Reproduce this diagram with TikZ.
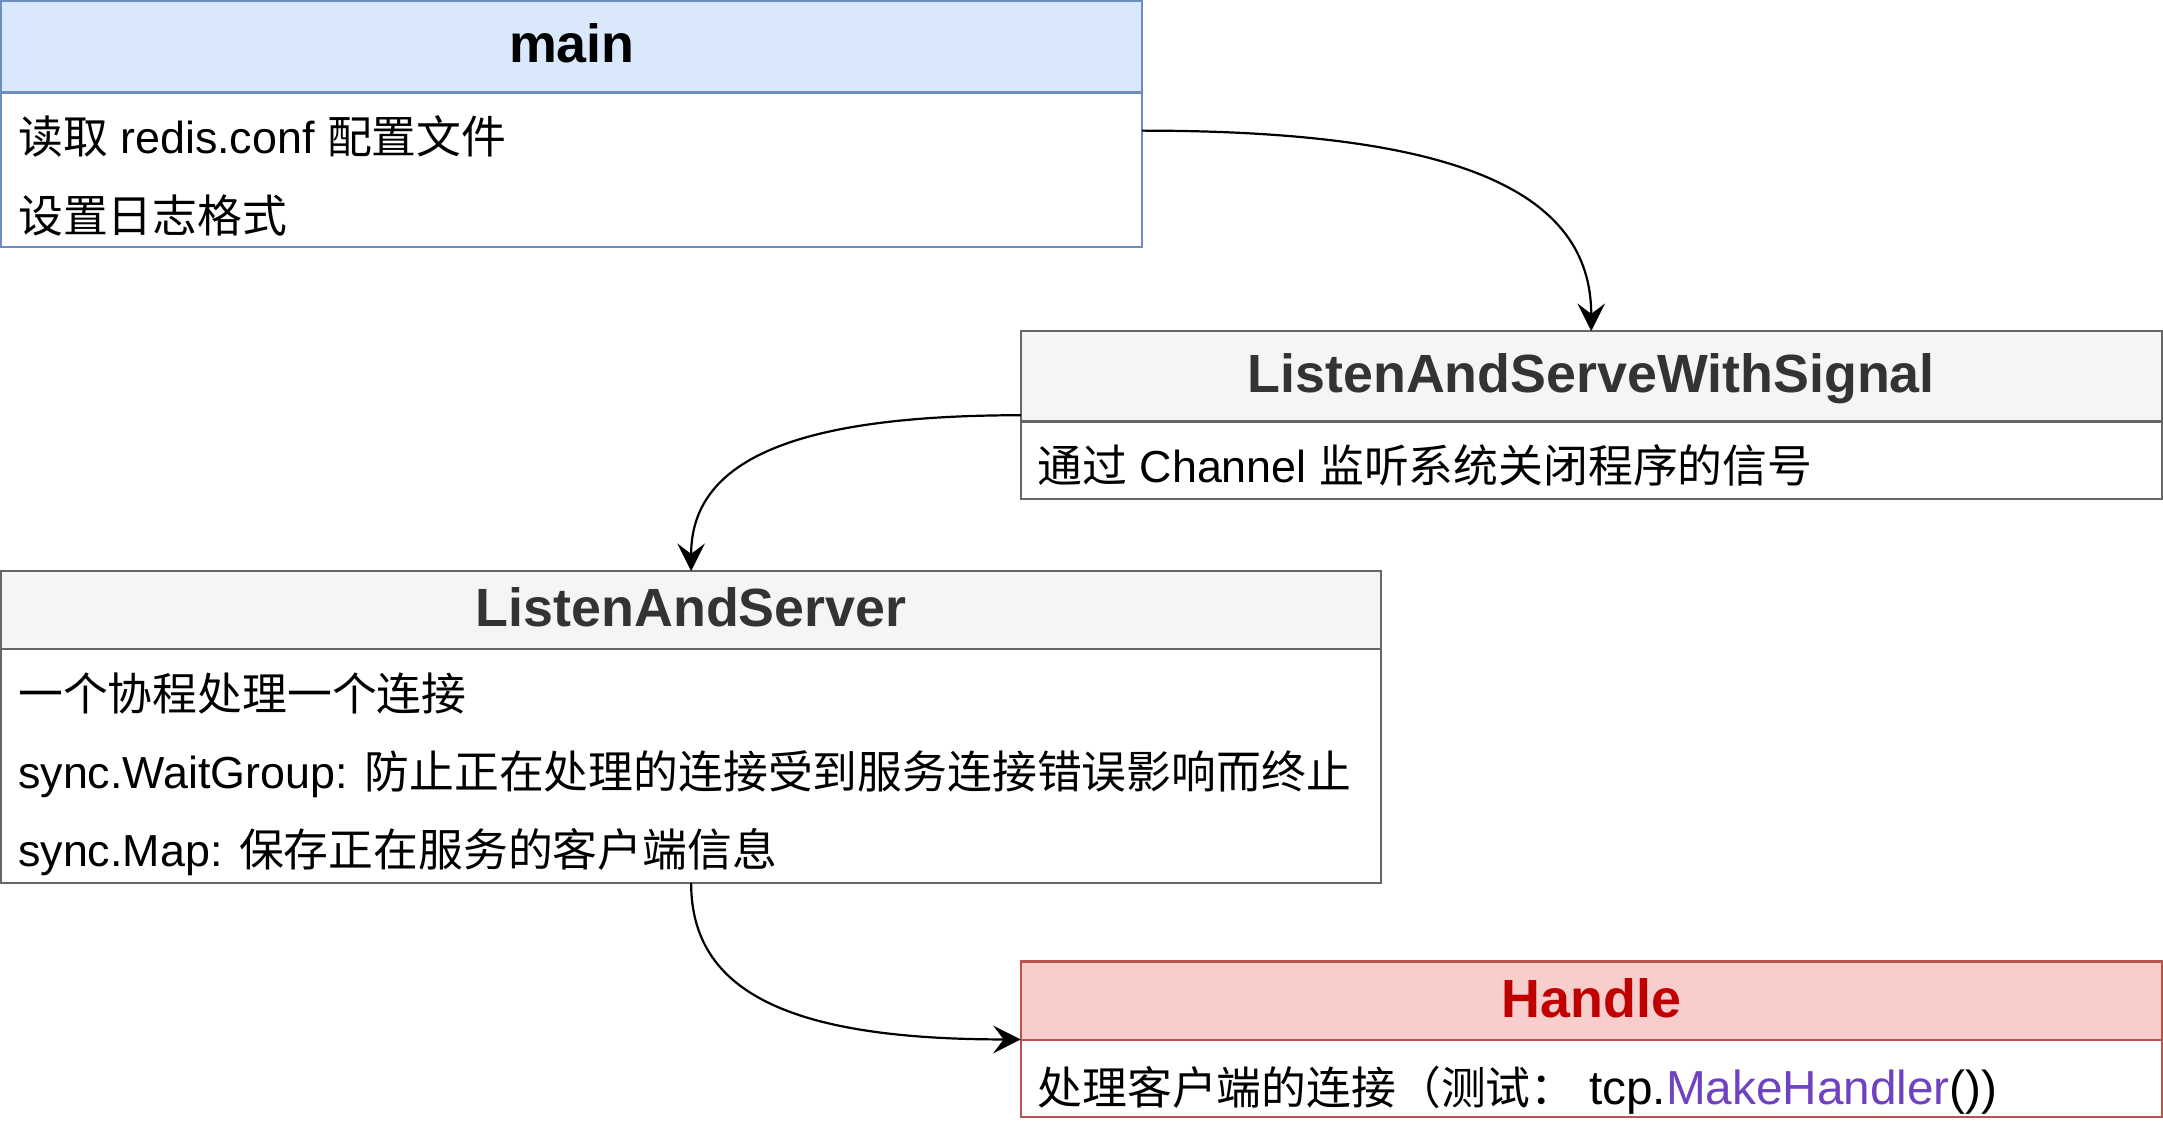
\documentclass[tikz,border=0pt]{standalone}
\usepackage{fontspec}
\setmainfont{Liberation Sans}
\newfontfamily\cjk{Noto Sans CJK SC}
\usetikzlibrary{arrows.meta,calc}
\definecolor{blueFill}{HTML}{DAE8FC}
\definecolor{blueLine}{HTML}{6C8EBF}
\definecolor{grayFill}{HTML}{F5F5F5}
\definecolor{grayLine}{HTML}{666666}
\definecolor{grayText}{HTML}{333333}
\definecolor{redFill}{HTML}{F8CECC}
\definecolor{redLine}{HTML}{B85450}
\definecolor{redText}{HTML}{C00000}
\definecolor{mkpurple}{HTML}{6F42C1}
\begin{document}
\begin{tikzpicture}[x=1pt,y=-1pt,
  classbox/.style n args={3}{draw=#2, fill=white, line width=1.6pt, inner sep=0pt, outer sep=0pt,
    anchor=north west,
    path picture={\fill[#3] (path picture bounding box.north west) rectangle ([yshift=-#1]path picture bounding box.north east);}},
  divider/.style={line width=1.6pt},
  titletext/.style={anchor=base, inner sep=0pt, font=\fontsize{39}{47}\selectfont\bfseries},
  body/.style={anchor=base west, inner sep=0pt, font=\fontsize{32.5}{39}\selectfont},
  arr/.style={line width=1.6pt, -{Stealth[length=20pt, width=20pt, inset=7.5pt]}}
]
\useasboundingbox (0,0) rectangle (1568,817.7);

% main
\node[classbox={66pt}{blueLine}{blueFill}, minimum width=827pt, minimum height=178pt] (main) at (1,1) {};
\draw[divider, blueLine] ([yshift=-66pt]main.north west) -- ([yshift=-66pt]main.north east);
\node[titletext, text=black] (mainT) at (414.5,45.4) {main};
\node[body] (mainR1) at (13,111.6) {{\cjk 读取} redis.conf {\cjk 配置文件}};
\node[body] (mainR2) at (13,168.2) {\cjk 设置日志格式};

% ListenAndServeWithSignal
\node[classbox={65.5pt}{grayLine}{grayFill}, minimum width=827pt, minimum height=122pt] (lasws) at (740,240) {};
\draw[divider, grayLine] ([yshift=-65.5pt]lasws.north west) -- ([yshift=-65.5pt]lasws.north east);
\node[titletext, text=grayText] (laswsT) at (1153.5,284.6) {ListenAndServeWithSignal};
\node[body] (laswsR1) at (752,349.8) {{\cjk 通过} Channel {\cjk 监听系统关闭程序的信号}};

% ListenAndServer
\node[classbox={56.2pt}{grayLine}{grayFill}, minimum width=1000pt, minimum height=226pt] (las) at (1,414) {};
\draw[divider, grayLine] ([yshift=-56.2pt]las.north west) -- ([yshift=-56.2pt]las.north east);
\node[titletext, text=grayText] (lasT) at (501,453.8) {ListenAndServer};
\node[body] (lasR1) at (13,515.4) {\cjk 一个协程处理一个连接};
\node[body] (lasR2) at (13,571.6) {sync.WaitGroup: {\cjk 防止正在处理的连接受到服务连接错误影响而终止}};
\node[body] (lasR3) at (13,627.8) {sync.Map: {\cjk 保存正在服务的客户端信息}};

% Handle
\node[classbox={57pt}{redLine}{redFill}, minimum width=827pt, minimum height=113pt] (handle) at (740,697) {};
\draw[divider, redLine] ([yshift=-57pt]handle.north west) -- ([yshift=-57pt]handle.north east);
\node[titletext, text=redText] (handleT) at (1153.5,737.5) {Handle};
\node[body] (handleR1) at (752,800.5) {{\cjk 处理客户端的连接（测试：}\hspace{0.3em}{\fontsize{34.6}{40}\selectfont tcp.\textcolor{mkpurple}{MakeHandler}())}};

% connectors
\coordinate (a1s) at ($(main.east)+(0,4.7)$);
\draw[arr] (a1s) .. controls ($(a1s)!0.7!(a1s -| lasws.north)$) and ($(lasws.north)!0.7!(a1s -| lasws.north)$) .. (lasws.north);
\draw[arr] (lasws.west) .. controls ($(lasws.west)!0.7!(lasws.west -| las.north)$) and ($(las.north)!0.7!(lasws.west -| las.north)$) .. (las.north);
\draw[arr] (las.south) .. controls ($(las.south)!0.7!(las.south |- handle.west)$) and ($(handle.west)!0.7!(las.south |- handle.west)$) .. (handle.west);
\end{tikzpicture}
\end{document}
